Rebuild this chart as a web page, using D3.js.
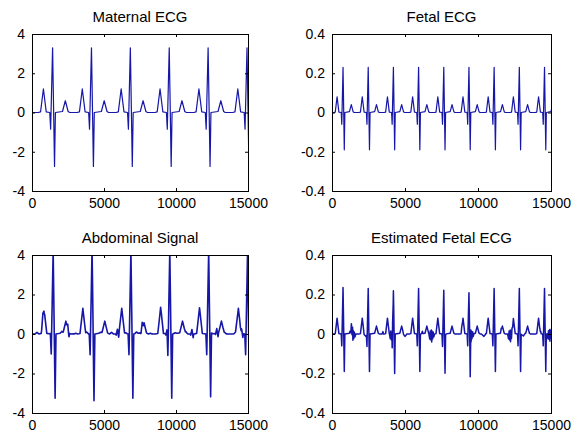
<!DOCTYPE html>
<html lang="en">
<head>
<meta charset="UTF-8">
<title>Fetal ECG extraction</title>
<script src="https://cdn.jsdelivr.net/npm/d3@7"></script>
<style>
	body {
		margin: 0;
		background: #fff;
	}

	svg text {
		font-family: "Liberation Sans", Arial, sans-serif;
		fill: #000;
	}

	.axis path, .axis line {
		stroke: #000;
	}
</style>
</head>
<body>
<div id="viz"></div>

<script>
// one beat of each waveform: knot offsets (samples, relative to the beat) and amplitudes
var maternalOffsets = [-1000, -835, -638, -442, -196, -135, 0, 135, 196, 687, 884, 1080, 1190, 1700];
var maternalValues = [0, 0.03, 1.2, 0.03, 0, -0.85, 3.3, -2.75, 0, 0.05, 0.6, 0.05, 0, 0];
var maternalBeats = [-1270, 1430, 4130, 6830, 9530, 12230, 14930];

var fetalOffsets = [-639, -533, -408, -282, -125, -86, 0, 86, 125, 439, 565, 690, 760, 1086];
var fetalValues = [0, 0.002, 0.08, 0.002, 0, -0.06, 0.23, -0.19, 0, 0.004, 0.04, 0.004, 0, 0];
var fetalBeats = [756, 2481, 4206, 5931, 7656, 9381, 11106, 12831, 14556];

// maternal beat as seen on the abdomen (slightly delayed and larger)
var abdOffsets = [-960, -795, -598, -402, -156, -95, 40, 175, 236, 727, 924, 1120, 1230, 1740];
var abdValues = [0, 0.03, 1.3, 0.03, 0, -1.05, 4.2, -3.25, 0, 0.06, 0.65, 0.06, 0, 0];

// what is left of the maternal beat in the estimate
var residOffsets = [-700, -640, -600, -200, -140, -100, -60, -20, 0, 20, 60, 100, 140, 200, 700, 880, 1000];
var residValues = [0, 0.012, 0, 0, -0.025, 0.015, -0.03, 0.02, -0.04, 0.015, -0.025, 0.01, -0.015, 0, 0, -0.012, 0];

var xTicks = [0, 5000, 10000, 15000];
var bigTicks = [-4, -2, 0, 2, 4];
var smallTicks = [-0.4, -0.2, 0, 0.2, 0.4];

var titles = ['Maternal ECG', 'Fetal ECG', 'Abdominal Signal', 'Estimated Fetal ECG'];

var N = 15000;

function component(offsets, values, beats) {
	return {offsets: offsets, values: values, beats: beats};
}

function valueAt(c, x) {
	var s = 0;
	c.beats.forEach(function (b) {
		var o = c.offsets, v = c.values, dx = x - b;
		if (dx < o[0] || dx > o[o.length - 1]) return;
		for (var i = 0; i < o.length - 1; i++) {
			if (dx >= o[i] && dx <= o[i + 1]) {
				var t = o[i + 1] === o[i] ? 0 : (dx - o[i]) / (o[i + 1] - o[i]);
				s += v[i] + t * (v[i + 1] - v[i]);
				return;
			}
		}
	});
	return s;
}

// sum of piecewise linear components, evaluated at every knot
function signal(parts) {
	var xs = [0, N];
	parts.forEach(function (c) {
		c.beats.forEach(function (b) {
			c.offsets.forEach(function (o) {
				var x = b + o;
				if (x > -200 && x < N + 200) xs.push(x);
			});
		});
	});
	xs = Array.from(new Set(xs)).sort(function (a, b) { return a - b; });
	return xs.map(function (x) {
		return {x: x, y: d3.sum(parts, function (c) { return valueAt(c, x); })};
	});
}

var maternal = component(maternalOffsets, maternalValues, maternalBeats);
var fetal = component(fetalOffsets, fetalValues, fetalBeats);
var abd = component(abdOffsets, abdValues, maternalBeats);
var resid = component(residOffsets, residValues, maternalBeats);

var panels = [
	{title: titles[0], data: signal([maternal]), yTicks: bigTicks, left: 32, top: 34, w: 216, h: 157, sw: 1.2},
	{title: titles[1], data: signal([fetal]), yTicks: smallTicks, left: 332, top: 34, w: 219, h: 157, sw: 1.2},
	{title: titles[2], data: signal([abd, fetal]), yTicks: bigTicks, left: 32, top: 255, w: 216, h: 158, sw: 1.6},
	{title: titles[3], data: signal([fetal, resid]), yTicks: smallTicks, left: 332, top: 255, w: 219, h: 158, sw: 1.5}
];

var svg = d3.select('#viz')
	.append('svg')
	.attr('width', 584)
	.attr('height', 436);

panels.forEach(function (p, i) {
	var x = d3.scaleLinear().domain([0, N]).range([0, p.w]);
	var y = d3.scaleLinear().domain([p.yTicks[0], p.yTicks[p.yTicks.length - 1]]).range([p.h, 0]);

	var g = svg.append('g')
		.attr('transform', 'translate(' + p.left + ',' + p.top + ')');

	g.append('clipPath')
		.attr('id', 'clip' + i)
		.append('rect')
		.attr('width', p.w)
		.attr('height', p.h);

	var line = d3.line()
		.x(function (d) { return x(d.x); })
		.y(function (d) { return y(d.y); });

	g.append('path')
		.datum(p.data)
		.attr('clip-path', 'url(#clip' + i + ')')
		.attr('fill', 'none')
		.attr('stroke', '#1616a8')
		.attr('stroke-width', p.sw)
		.attr('stroke-linejoin', 'round')
		.attr('d', line);

	var fmt = function (d) { return String(d); };

	g.append('g')
		.attr('class', 'axis')
		.attr('transform', 'translate(0,' + p.h + ')')
		.call(d3.axisBottom(x).tickValues(xTicks).tickFormat(fmt).tickSizeInner(-3).tickSizeOuter(0).tickPadding(7));
	g.append('g')
		.attr('class', 'axis')
		.call(d3.axisTop(x).tickValues(xTicks).tickFormat('').tickSizeInner(-3).tickSizeOuter(0));
	g.append('g')
		.attr('class', 'axis')
		.call(d3.axisLeft(y).tickValues(p.yTicks).tickFormat(fmt).tickSizeInner(-3).tickSizeOuter(0).tickPadding(7));
	g.append('g')
		.attr('class', 'axis')
		.attr('transform', 'translate(' + p.w + ',0)')
		.call(d3.axisRight(y).tickValues(p.yTicks).tickFormat('').tickSizeInner(-3).tickSizeOuter(0));

	g.selectAll('.axis text').attr('font-size', 14).attr('font-family', null);

	g.append('rect')
		.attr('width', p.w)
		.attr('height', p.h)
		.attr('fill', 'none')
		.attr('stroke', '#000')
		.attr('stroke-width', 1)
		.attr('shape-rendering', 'crispEdges');

	g.append('text')
		.attr('x', p.w / 2)
		.attr('y', -12)
		.attr('text-anchor', 'middle')
		.attr('font-size', 15)
		.text(p.title);
});
</script>
</body>
</html>
